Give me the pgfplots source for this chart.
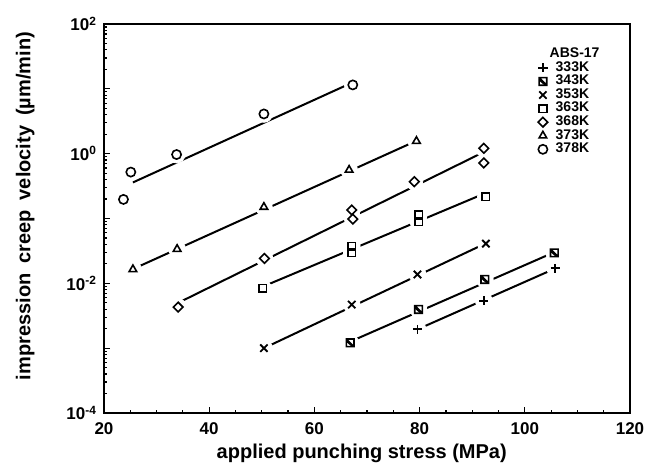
\documentclass[border=0pt]{standalone}
\usepackage{fontspec}
\setmainfont{Liberation Sans}
\usepackage{pgfplots}
\pgfplotsset{compat=1.18}

% square with a diagonal (343K)
\pgfdeclareplotmark{sqdiag}{%
  \pgfpathrectangle{\pgfpoint{-\pgfplotmarksize}{-\pgfplotmarksize}}{\pgfpoint{2\pgfplotmarksize}{2\pgfplotmarksize}}%
  \pgfpathmoveto{\pgfpoint{-\pgfplotmarksize}{\pgfplotmarksize}}%
  \pgfpathlineto{\pgfpoint{\pgfplotmarksize}{-\pgfplotmarksize}}%
  \pgfusepathqstroke
  \pgfpathmoveto{\pgfpoint{-\pgfplotmarksize}{\pgfplotmarksize}}%
  \pgfpathlineto{\pgfpoint{-\pgfplotmarksize}{0.2\pgfplotmarksize}}%
  \pgfpathlineto{\pgfpoint{0.4\pgfplotmarksize}{-\pgfplotmarksize}}%
  \pgfpathlineto{\pgfpoint{\pgfplotmarksize}{-\pgfplotmarksize}}%
  \pgfpathclose
  \pgfusepathqfill
}

\pgfplotstableread{
x y
79.6 0.00195
92.2 0.0054
105.8 0.017
}\tA
\pgfplotstableread{
x y
66.8 0.00121
79.8 0.00396
92.4 0.0115
105.6 0.0295
}\tB
\pgfplotstableread{
x y
50.4 0.00100
67.1 0.0047
79.6 0.0137
92.6 0.041
}\tC
\pgfplotstableread{
x y
50.2 0.0084
67.1 0.0375
67.1 0.0295
79.8 0.113
79.8 0.089
92.6 0.216
}\tD
\pgfplotstableread{
x y
34.1 0.0043
50.5 0.0242
67.1 0.135
67.3 0.098
79.0 0.37
92.2 1.21
92.2 0.72
}\tE
\pgfplotstableread{
x y
25.5 0.0164
33.9 0.0337
50.4 0.15
66.6 0.56
79.4 1.56
}\tF
\pgfplotstableread{
x y
23.7 0.197
25.1 0.52
33.8 0.97
50.4 4.1
67.3 11.5
}\tG

\pgfplotsset{gap/.style={forget plot, only marks, mark=*, mark size=4.2pt,
  mark options={draw=white, fill=white}}}

\begin{document}
\begin{tikzpicture}
\begin{axis}[
  scale only axis, width=263pt, height=194.5pt,
  xmin=20, xmax=120, ymode=log, ymin=1e-4, ymax=1e2,
  xtick={20,40,...,120}, minor x tick num=3,
  ytick={1e-4,1e-3,1e-2,1e-1,1,1e1,1e2},
  minor ytick={2e-4,3e-4,4e-4,5e-4,6e-4,7e-4,8e-4,9e-4,
    2e-3,3e-3,4e-3,5e-3,6e-3,7e-3,8e-3,9e-3,
    2e-2,3e-2,4e-2,5e-2,6e-2,7e-2,8e-2,9e-2,
    2e-1,3e-1,4e-1,5e-1,6e-1,7e-1,8e-1,9e-1,
    2,3,4,5,6,7,8,9,20,30,40,50,60,70,80,90},
  yticklabels={10\textsuperscript{-4},,10\textsuperscript{-2},,10\textsuperscript{0},,10\textsuperscript{2}},
  /pgf/number format/assume math mode=true,
  tick label style={font=\bfseries\fontsize{8.5}{10}\selectfont},
  xticklabel style={yshift=-1.5pt},
  xtick pos=left, ytick pos=left,
  major tick length=3.2pt, minor tick length=1.6pt,
  tick style={line width=0.6pt, black},
  axis line style={line width=0.9pt},
  xlabel={applied punching stress (MPa)},
  ylabel={impression\hspace{0.5em}creep\hspace{0.5em}velocity\hspace{0.5em}(µm/min)},
  label style={font=\bfseries\fontsize{10}{12}\selectfont},
  xlabel style={at={(axis description cs:0.49,-0.103)}, anchor=center},
  ylabel style={at={(axis description cs:-0.15,0.532)}, anchor=center},
  legend cell align=left,
  legend style={draw=none, fill=none, at={(0.958,0.955)}, anchor=north east,
    font=\bfseries\fontsize{7}{7}\selectfont, row sep=-1.6pt, column sep=3pt,
    nodes={inner sep=1pt}},
]
% fitted lines
\addplot[forget plot, line width=1pt] coordinates {(79.6,0.00195)(105.8,0.0170)};
\addplot[forget plot, line width=1pt] coordinates {(66.8,0.00126)(105.6,0.0302)};
\addplot[forget plot, line width=1pt] coordinates {(50.4,0.00100)(92.6,0.0415)};
\addplot[forget plot, line width=1pt] coordinates {(50.2,0.0089)(92.6,0.248)};
\addplot[forget plot, line width=1pt] coordinates {(34.1,0.0050)(92.2,1.06)};
\addplot[forget plot, line width=1pt] coordinates {(25.5,0.0166)(79.4,1.58)};
\addplot[forget plot, line width=1pt] coordinates {(25.5,0.36)(67.3,12.6)};
% white gaps round the marks
\addplot[gap] table {\tA};
\addplot[gap] table {\tB};
\addplot[gap] table {\tC};
\addplot[gap] table {\tD};
\addplot[gap] table {\tE};
\addplot[gap] table {\tF};
\addplot[gap] table {\tG};
% marks
\addlegendimage{empty legend}
\addlegendentry{\hspace{-3pt}\raisebox{0pt}[\height][4.5pt]{ABS-17}}
\addplot[only marks, mark=+, mark size=2.3pt, mark options={line width=0.9pt}] table {\tA};
\addlegendentry{333K}
\addplot[only marks, mark=sqdiag, mark size=1.9pt, mark options={line width=0.8pt}] table {\tB};
\addlegendentry{343K}
\addplot[only marks, mark=x, mark size=2.6pt, mark options={line width=0.9pt}] table {\tC};
\addlegendentry{353K}
\addplot[only marks, mark=square, mark size=1.9pt, mark options={line width=0.8pt}] table {\tD};
\addlegendentry{363K}
\addplot[only marks, mark=square, mark size=1.7pt, mark options={rotate=45, line width=0.8pt}] table {\tE};
\addlegendentry{368K}
\addplot[only marks, mark=triangle, mark size=2.2pt, mark options={line width=0.8pt}] table {\tF};
\addlegendentry{373K}
\addplot[only marks, mark=o, mark size=2.3pt, mark options={line width=0.8pt}] table {\tG};
\addlegendentry{378K}
\end{axis}
\pgfresetboundingbox
\useasboundingbox ([shift={(-52pt,-26.5pt)}]current axis.south west) rectangle ([shift={(14.5pt,12pt)}]current axis.north east);
\end{tikzpicture}
\end{document}
